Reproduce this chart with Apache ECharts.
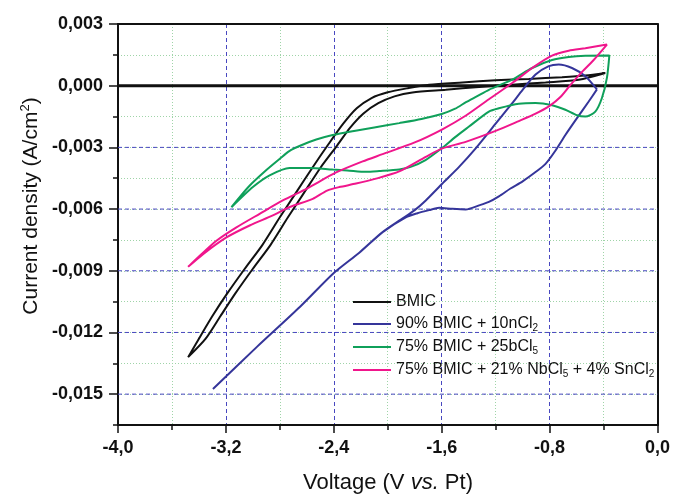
<!DOCTYPE html>
<html>
<head>
<meta charset="utf-8">
<script src="https://cdn.jsdelivr.net/npm/echarts@6/dist/echarts.min.js"></script>
<style>html,body{margin:0;padding:0;background:#fff}#c{width:673px;height:495px}</style>
</head>
<body>
<div id="c"></div>
<script>
// ---- data (V vs Pt, A/cm2) ----
const seriesNames = ['BMIC', '90% BMIC + 10nCl2', '75% BMIC + 25bCl5', '75% BMIC + 21% NbCl5 + 4% SnCl2'];
const legendRich = [
  '{m|BMIC}',
  '{m|90% BMIC + 10nCl}{s|2}',
  '{m|75% BMIC + 25bCl}{s|5}',
  '{m|75% BMIC + 21% NbCl}{s|5}{m| + 4% SnCl}{s|2}'
];
const xRange = [-4.0, 0.0];
const yMajorValues = [-0.015, -0.012, -0.009, -0.006, -0.003, 0.0, 0.003];
const yBlueLines = [-0.015, -0.012, -0.009, -0.006, -0.003];
const yZeroLine = 0.0;

const bmic = [
  [-0.387, 0.00062], [-0.584, 0.00029], [-0.830, 0.00016], [-1.077, 0.00005], [-1.323, -0.00006],
  [-1.570, -0.00020], [-1.817, -0.00033], [-1.95, -0.00052], [-2.07, -0.00085], [-2.18, -0.00135],
  [-2.28, -0.00205], [-2.38, -0.00295], [-2.50, -0.0040], [-2.62, -0.0052], [-2.74, -0.0064],
  [-2.87, -0.00775], [-3.0, -0.0089], [-3.13, -0.0101], [-3.24, -0.0112], [-3.35, -0.0123], [-3.48, -0.0132],
  [-3.40, -0.0123], [-3.30, -0.0112], [-3.19, -0.0101], [-3.06, -0.0089], [-2.93, -0.00775],
  [-2.80, -0.0064], [-2.68, -0.0052], [-2.56, -0.0040], [-2.44, -0.00285], [-2.33, -0.00185],
  [-2.23, -0.0011], [-2.12, -0.0006], [-2.0, -0.00032], [-1.85, -0.00012], [-1.693, 0.00005],
  [-1.447, 0.00016], [-1.200, 0.00026], [-0.954, 0.00033], [-0.708, 0.00041], [-0.535, 0.00049], [-0.387, 0.00062]
];
const nCl2 = [
  [-0.449, -0.00018], [-0.510, -0.00077], [-0.597, -0.00158], [-0.683, -0.0024], [-0.756, -0.00315],
  [-0.830, -0.0038], [-0.904, -0.0042], [-1.0, -0.00465], [-1.09, -0.0050], [-1.176, -0.00538],
  [-1.25, -0.00565], [-1.323, -0.00582], [-1.422, -0.00602], [-1.521, -0.00599], [-1.619, -0.00594],
  [-1.693, -0.00605], [-1.78, -0.0062], [-1.866, -0.0064], [-2.038, -0.00712], [-2.211, -0.00812],
  [-2.40, -0.00911], [-2.65, -0.01075], [-2.97, -0.0127], [-3.296, -0.01475],
  [-2.97, -0.0127], [-2.65, -0.01075], [-2.40, -0.00911], [-2.211, -0.00812], [-2.038, -0.00712],
  [-1.90, -0.0065], [-1.80, -0.00605], [-1.718, -0.00558], [-1.595, -0.00476], [-1.471, -0.00395],
  [-1.348, -0.00305], [-1.20, -0.00185], [-1.077, -0.00085], [-1.0, -0.0002], [-0.904, 0.00054],
  [-0.806, 0.00095], [-0.732, 0.00103], [-0.634, 0.00086], [-0.535, 0.00046], [-0.449, -0.00018]
];
const bCl5 = [
  [-3.159, -0.00591], [-3.03, -0.0049], [-2.90, -0.0041], [-2.80, -0.00355], [-2.73, -0.00318],
  [-2.65, -0.00292], [-2.53, -0.00262], [-2.408, -0.0024], [-2.25, -0.0022], [-2.10, -0.00203],
  [-1.915, -0.00182], [-1.75, -0.00162], [-1.60, -0.00138], [-1.50, -0.00112], [-1.42, -0.0008],
  [-1.34, -0.00052], [-1.25, -0.0002], [-1.077, 0.00029], [-0.929, 0.00086], [-0.782, 0.00125],
  [-0.658, 0.0014], [-0.535, 0.00146], [-0.357, 0.00147],
  [-0.375, 0.00038], [-0.412, -0.0006], [-0.461, -0.00126], [-0.535, -0.0015], [-0.597, -0.00144],
  [-0.683, -0.00117], [-0.782, -0.00095], [-0.904, -0.00084], [-1.028, -0.00088], [-1.176, -0.0011],
  [-1.25, -0.00126], [-1.40, -0.0020], [-1.50, -0.0025], [-1.595, -0.00302], [-1.72, -0.00362],
  [-1.83, -0.00395], [-1.915, -0.00407], [-2.063, -0.00415], [-2.161, -0.00419], [-2.30, -0.00412],
  [-2.408, -0.00408], [-2.58, -0.0040], [-2.728, -0.0040], [-2.876, -0.00436], [-3.0, -0.00493], [-3.159, -0.00591]
];
const nbSn = [
  [-3.48, -0.00881], [-3.394, -0.00827], [-3.27, -0.00754], [-3.122, -0.00689], [-2.95, -0.00623],
  [-2.778, -0.00558], [-2.60, -0.0050], [-2.383, -0.00422], [-2.186, -0.00368], [-2.038, -0.00333],
  [-1.80, -0.00276], [-1.595, -0.00212], [-1.42, -0.00145], [-1.25, -0.00066], [-1.077, 0.00013],
  [-0.92, 0.0009], [-0.782, 0.00146], [-0.658, 0.0017], [-0.535, 0.00182], [-0.375, 0.0020],
  [-0.48, 0.0012], [-0.57, 0.0006], [-0.65, 0.0], [-0.72, -0.00055], [-0.80, -0.00098],
  [-0.904, -0.00136], [-1.028, -0.00172], [-1.2, -0.0022], [-1.422, -0.00273], [-1.595, -0.00305],
  [-1.718, -0.00346], [-1.915, -0.00417], [-2.087, -0.00452], [-2.235, -0.00476], [-2.36, -0.00493],
  [-2.45, -0.0051], [-2.556, -0.0055], [-2.728, -0.0059], [-2.852, -0.00631], [-3.024, -0.0068],
  [-3.196, -0.00738], [-3.369, -0.00819], [-3.48, -0.00881]
];
const seriesData = [bmic, nCl2, bCl5, nbSn];
const seriesColors = ['#111111', '#35359a', '#0fa05a', '#f0168c'];

// ---- chart ----
const FONT = '"Liberation Sans", Arial, sans-serif';
const chart = echarts.init(document.getElementById('c'), null, {renderer: 'canvas'});

function fmtX(v) { if (Math.abs(v) < 1e-9) v = 0; return v.toFixed(1).replace('.', ','); }
function fmtY(v) {
  const k = Math.round(v / 0.0015);
  if (k % 2 !== 0) return '';
  if (Math.abs(v) < 1e-9) v = 0;
  return v.toFixed(3).replace('.', ',');
}

const lines = seriesData.map((d, i) => ({
  name: seriesNames[i],
  type: 'line',
  data: d,
  smooth: 0.25,
  symbol: 'none',
  showSymbol: false,
  z: 3,
  lineStyle: {color: seriesColors[i], width: 2},
  itemStyle: {color: seriesColors[i]}
}));

// grid reference lines (drawn through the axes' scales)
const refLines = yBlueLines.map(v => ({
  type: 'line', silent: true, z: 1, symbol: 'none', showSymbol: false,
  data: [[xRange[0], v], [xRange[1], v]],
  lineStyle: {color: '#4848c0', type: [4, 3], width: 1}
}));
refLines.push({
  type: 'line', silent: true, z: 2, symbol: 'none', showSymbol: false,
  data: [[xRange[0], yZeroLine], [xRange[1], yZeroLine]],
  lineStyle: {color: '#111', type: 'solid', width: 3}
});

const frameAxis = {
  type: 'value', min: 0, max: 1,
  axisLine: {show: true, onZero: false, lineStyle: {color: '#111', width: 2}},
  axisTick: {show: false}, axisLabel: {show: false}, splitLine: {show: false}
};

const option = {
  backgroundColor: '#fff',
  animation: false,
  grid: {left: 118, right: 14, top: 24, bottom: 70},
  legend: {
    orient: 'vertical', left: 348, top: 289,
    icon: 'rect', itemWidth: 38, itemHeight: 2, itemGap: 5,
    data: seriesNames,
    formatter: name => legendRich[seriesNames.indexOf(name)],
    textStyle: {
      fontFamily: FONT, color: '#111', fontSize: 16,
      rich: {
        m: {fontFamily: FONT, fontSize: 16, color: '#111', lineHeight: 18},
        s: {fontFamily: FONT, fontSize: 10, color: '#111', lineHeight: 10, padding: [8, 0, 0, 0]}
      }
    }
  },
  xAxis: [{
    type: 'value', min: xRange[0], max: xRange[1], interval: 0.8, position: 'bottom',
    axisLine: {onZero: false, lineStyle: {color: '#111', width: 2}},
    axisTick: {show: true, length: 8, lineStyle: {color: '#111', width: 1.5}},
    minorTick: {show: true, splitNumber: 2, length: 5, lineStyle: {color: '#111', width: 1.5}},
    axisLabel: {formatter: fmtX, fontFamily: FONT, fontWeight: 'bold', fontSize: 18, color: '#111', margin: 14},
    splitLine: {show: true, lineStyle: {color: '#4848c0', type: [4, 3], width: 1}},
    minorSplitLine: {show: true, lineStyle: {color: '#9fd4a8', type: [1, 2], width: 1}}
  }, Object.assign({position: 'top'}, frameAxis)],
  yAxis: [{
    type: 'value', min: -0.0165, max: 0.003, interval: 0.0015, position: 'left',
    axisLine: {onZero: false, lineStyle: {color: '#111', width: 2}},
    axisTick: {show: true, length: 5, lineStyle: {color: '#111', width: 1.5}},
    axisLabel: {formatter: fmtY, fontFamily: FONT, fontWeight: 'bold', fontSize: 18, color: '#111', margin: 15},
    splitLine: {show: true, lineStyle: {color: '#9fd4a8', type: [1, 2], width: 1}}
  }, Object.assign({position: 'right'}, frameAxis), {
    type: 'value', min: -0.0165, max: 0.003, interval: 0.0015, position: 'left', offset: 0,
    axisLine: {show: false, onZero: false},
    axisTick: {show: true, length: 9, customValues: yMajorValues, lineStyle: {color: '#111', width: 1.5}},
    axisLabel: {show: false},
    splitLine: {show: false}
  }],
  series: refLines.concat(lines),
  graphic: [
    {
      type: 'text', x: 31, y: 206, rotation: Math.PI / 2,
      style: {
        text: '{a|Current density (A/cm}{p|2}{a|)}',
        align: 'center', verticalAlign: 'middle',
        rich: {
          a: {fontFamily: FONT, fontSize: 21, fill: '#111', lineHeight: 25},
          p: {fontFamily: FONT, fontSize: 13, fill: '#111', lineHeight: 13, verticalAlign: 'top'}
        }
      }
    },
    {
      type: 'text', x: 388, y: 483,
      style: {
        text: '{a|Voltage (V }{i|vs.}{a| Pt)}',
        align: 'center', verticalAlign: 'middle',
        rich: {
          a: {fontFamily: FONT, fontSize: 22, fill: '#111'},
          i: {fontFamily: FONT, fontSize: 22, fontStyle: 'italic', fill: '#111'}
        }
      }
    }
  ]
};
chart.setOption(option);
</script>
</body>
</html>
